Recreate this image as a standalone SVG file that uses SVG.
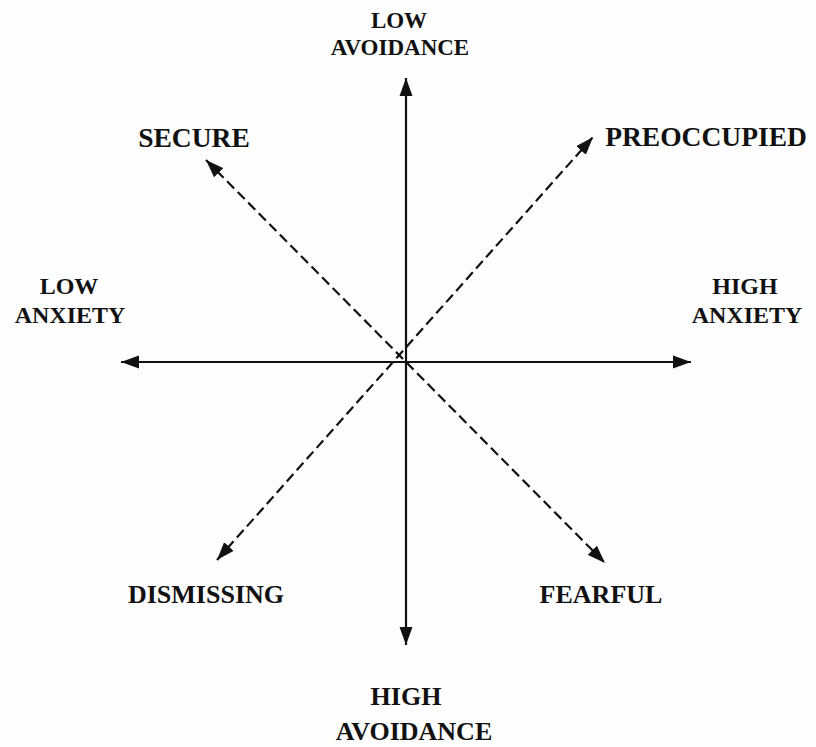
<svg xmlns="http://www.w3.org/2000/svg" width="816" height="747" viewBox="0 0 816 747">
<defs>
<style>
text{font-family:"Liberation Serif","Times New Roman",serif;font-weight:bold;fill:#111;text-anchor:middle}
.axis{stroke:#111;stroke-width:2.2;fill:none}
.dash{stroke:#111;stroke-width:2.2;fill:none;stroke-dasharray:10,5}
</style>
<marker id="ah" viewBox="0 -7 18 14" refX="18" refY="0" markerWidth="18" markerHeight="14" markerUnits="userSpaceOnUse" orient="auto-start-reverse">
<path d="M0,-6.5 L18,0 L0,6.5 z" fill="#111"/>
</marker>
</defs>
<rect width="816" height="747" fill="#fefefe"/>
<g id="connectors">
<line class="axis" x1="406" y1="645" x2="406" y2="78" marker-start="url(#ah)" marker-end="url(#ah)"/>
<line class="axis" x1="121" y1="362" x2="691" y2="362" marker-start="url(#ah)" marker-end="url(#ah)"/>
<line class="dash" x1="206" y1="160" x2="605" y2="563" marker-start="url(#ah)" marker-end="url(#ah)"/>
<line class="dash" x1="217" y1="560" x2="593" y2="137" marker-start="url(#ah)" marker-end="url(#ah)"/>
</g>
<g id="low-avoidance"><text x="399" y="28" font-size="23">LOW</text><text x="400" y="55" font-size="23">AVOIDANCE</text></g>
<g id="high-avoidance"><text x="406" y="705" font-size="26">HIGH</text><text x="414" y="740" font-size="26">AVOIDANCE</text></g>
<g id="low-anxiety"><text x="69" y="294" font-size="24">LOW</text><text x="70" y="323" font-size="24">ANXIETY</text></g>
<g id="high-anxiety"><text x="745" y="294" font-size="24">HIGH</text><text x="747" y="323" font-size="24">ANXIETY</text></g>
<g id="secure"><text x="194" y="147" font-size="27.5">SECURE</text></g>
<g id="preoccupied"><text x="706" y="146" font-size="27.5">PREOCCUPIED</text></g>
<g id="dismissing"><text x="206" y="603" font-size="26">DISMISSING</text></g>
<g id="fearful"><text x="601" y="603" font-size="26">FEARFUL</text></g>
</svg>
